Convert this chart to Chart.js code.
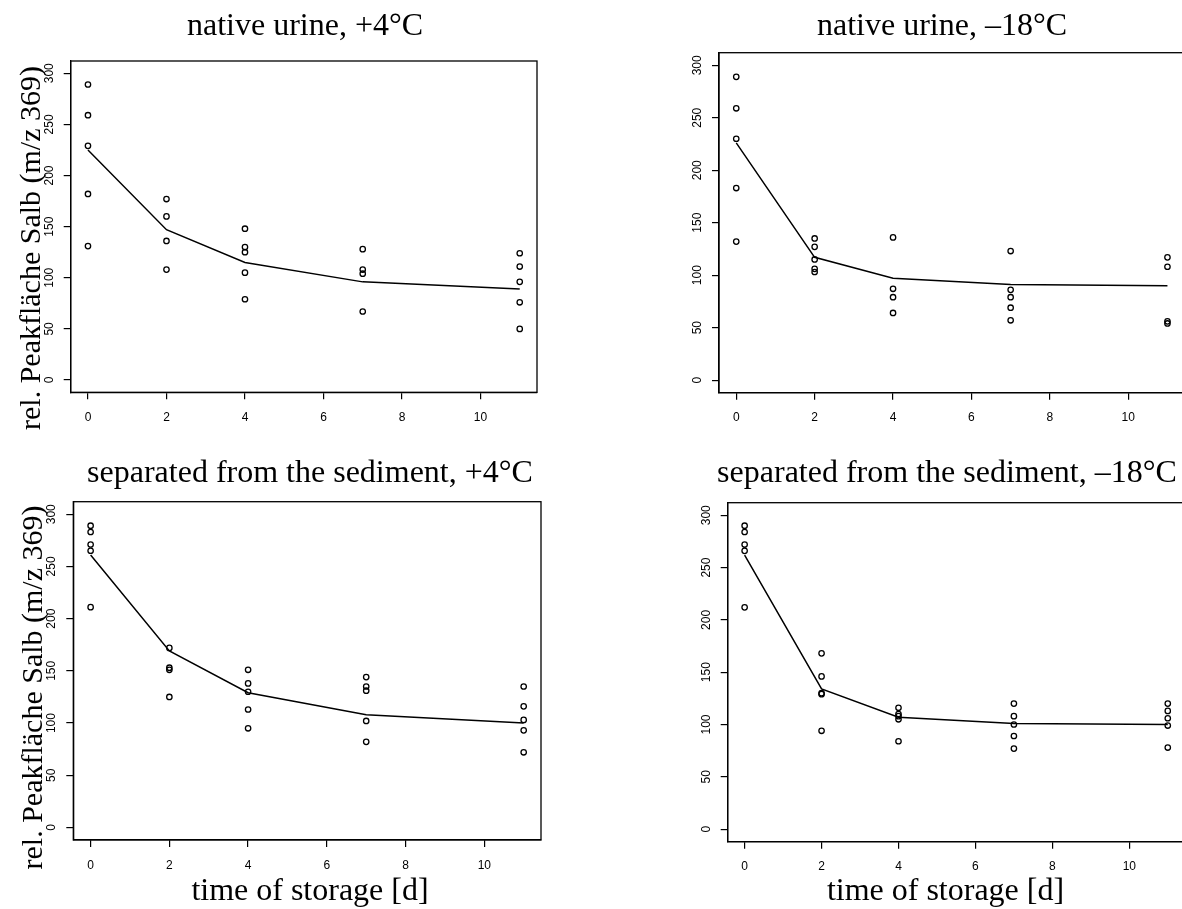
<!DOCTYPE html>
<html lang="en">
  <head>
    <meta charset="UTF-8" />
    <title>Salb peak area vs. time of storage</title>
    <script src="https://cdn.jsdelivr.net/npm/chart.js"></script>
    <style>
      body {
        margin: 0;
        background: #fff;
        overflow: hidden;
      }

      .page {
        position: relative;
        width: 1182px;
        height: 909px;
        overflow: hidden;
        background: #fff;
      }

      canvas {
        position: absolute;
      }
    </style>
  </head>
  <body>
    <div class="page">
      <canvas id="urine-plus4"></canvas>
      <canvas id="urine-minus18"></canvas>
      <canvas id="sep-plus4"></canvas>
      <canvas id="sep-minus18"></canvas>
    </div>

    <script>
      const days = [0, 2, 4, 7, 11];
      const xTicks = [0, 2, 4, 6, 8, 10];
      const yTicks = [0, 50, 100, 150, 200, 250, 300];

      // replicates per storage day
      const urinePlus4 = [
        [289, 259, 229, 182, 131],
        [177, 160, 136, 108],
        [148, 130, 125, 105, 79],
        [128, 108, 104, 67],
        [124, 111, 96, 76, 50],
      ];
      const urinePlus4Fit = [225, 147, 115, 96, 89];

      const urineMinus18 = [
        [289, 259, 230, 183, 132],
        [135, 127, 115, 106, 103],
        [136, 87, 79, 64],
        [123, 86, 79, 69, 57],
        [117, 108, 56, 54],
      ];
      const urineMinus18Fit = [226, 117, 97, 91, 90];

      const sepPlus4 = [
        [289, 283, 271, 265, 211],
        [172, 153, 151, 125],
        [151, 138, 130, 113, 95],
        [144, 135, 131, 102, 82],
        [135, 116, 103, 93, 72],
      ];
      const sepPlus4Fit = [261, 169, 129, 108, 100];

      const sepMinus18 = [
        [290, 284, 272, 266, 212],
        [168, 146, 130, 129, 94],
        [116, 110, 108, 105, 84],
        [120, 108, 100, 89, 77],
        [120, 113, 106, 99, 78],
      ];
      const sepMinus18Fit = [262, 134, 107, 101, 100];

      const yLabel = "rel. Peakfläche Salb (m/z 369)";
      const xLabel = "time of storage [d]";

      const serif = "'Liberation Serif', 'Times New Roman', serif";
      const sans = "'Liberation Sans', Arial, sans-serif";

      // page positions of each panel (canvas box, plot box, text anchors)
      const panels = [
        {
          id: "urine-plus4",
          title: "native urine, +4°C",
          values: urinePlus4,
          fit: urinePlus4Fit,
          left: 0, top: 0, width: 545, height: 433,
          padTop: 61, padRight: 8, yWidth: 70.7, xHeight: 40.7,
          titleAt: [305, 34.5],
          yLabelAt: [39.5, 248],
          xLabelAt: null,
        },
        {
          id: "urine-minus18",
          title: "native urine, –18°C",
          values: urineMinus18,
          fit: urineMinus18Fit,
          left: 680, top: 0, width: 510, height: 433,
          padTop: 52.7, padRight: 4, yWidth: 39, xHeight: 40.3,
          titleAt: [942, 34.5],
          yLabelAt: null,
          xLabelAt: null,
        },
        {
          id: "sep-plus4",
          title: "separated from the sediment, +4°C",
          values: sepPlus4,
          fit: sepPlus4Fit,
          left: 0, top: 440, width: 549, height: 469,
          padTop: 61.7, padRight: 8, yWidth: 73.3, xHeight: 69,
          titleAt: [310, 482],
          yLabelAt: [41.5, 687.5],
          xLabelAt: [310, 899.5],
        },
        {
          id: "sep-minus18",
          title: "separated from the sediment, –18°C",
          values: sepMinus18,
          fit: sepMinus18Fit,
          left: 680, top: 440, width: 510, height: 469,
          padTop: 62.7, padRight: 4, yWidth: 47.7, xHeight: 67.3,
          titleAt: [947, 482],
          yLabelAt: null,
          xLabelAt: [945.5, 899.5],
        },
      ];

      // R style box around the plot region
      const framePlugin = {
        id: "frame",
        afterDraw(chart) {
          const { ctx, chartArea: a } = chart;
          ctx.save();
          ctx.strokeStyle = "#000";
          ctx.lineWidth = 1.3;
          ctx.strokeRect(a.left, a.top, a.right - a.left, a.bottom - a.top);
          ctx.restore();
        },
      };

      // titles placed like R's title()/mtext(), not centred on the plot box
      const panelTextPlugin = {
        id: "panelText",
        afterDraw(chart, args, opts) {
          const { ctx } = chart;
          ctx.save();
          ctx.fillStyle = "#000";
          ctx.textAlign = "center";
          ctx.textBaseline = "alphabetic";
          opts.items.forEach((t) => {
            ctx.save();
            ctx.translate(t.x, t.y);
            if (t.vertical) ctx.rotate(-Math.PI / 2);
            ctx.font = t.font;
            ctx.fillText(t.text, 0, 0);
            ctx.restore();
          });
          ctx.restore();
        },
      };

      function toPoints(values) {
        return days.flatMap((d, i) => values[i].map((v) => ({ x: d, y: v })));
      }

      function drawPanel(p) {
        const canvas = document.getElementById(p.id);
        canvas.width = p.width;
        canvas.height = p.height;
        canvas.style.left = p.left + "px";
        canvas.style.top = p.top + "px";

        const items = [
          {
            text: p.title,
            x: p.titleAt[0] - p.left,
            y: p.titleAt[1] - p.top,
            font: "32px " + serif,
          },
        ];
        if (p.yLabelAt) {
          items.push({
            text: yLabel,
            x: p.yLabelAt[0] - p.left,
            y: p.yLabelAt[1] - p.top,
            font: "30px " + serif,
            vertical: true,
          });
        }
        if (p.xLabelAt) {
          items.push({
            text: xLabel,
            x: p.xLabelAt[0] - p.left,
            y: p.xLabelAt[1] - p.top,
            font: "32px " + serif,
          });
        }

        const axisGrid = {
          display: true,
          drawOnChartArea: false,
          drawTicks: true,
          tickLength: 7,
          color: "#000",
          lineWidth: 1.2,
        };
        const axisBorder = { display: true, color: "#000", width: 1.3 };

        new Chart(canvas, {
          type: "scatter",
          data: {
            datasets: [
              {
                label: "fit",
                data: days.map((d, i) => ({ x: d, y: p.fit[i] })),
                showLine: true,
                borderColor: "#000",
                borderWidth: 1.5,
                pointRadius: 0,
                tension: 0,
              },
              {
                label: "samples",
                data: toPoints(p.values),
                borderColor: "#000",
                backgroundColor: "rgba(0,0,0,0)",
                borderWidth: 1.3,
                pointRadius: 2.7,
              },
            ],
          },
          options: {
            responsive: false,
            animation: false,
            layout: {
              padding: { left: 0, right: p.padRight, top: p.padTop, bottom: 0 },
            },
            plugins: {
              legend: { display: false },
              tooltip: { enabled: false },
              title: { display: false },
              panelText: { items },
            },
            scales: {
              x: {
                type: "linear",
                min: -0.44,
                max: 11.44,
                grid: axisGrid,
                border: axisBorder,
                afterBuildTicks: (scale) => {
                  scale.ticks = xTicks.map((v) => ({ value: v }));
                },
                afterFit: (scale) => {
                  scale.height = p.xHeight;
                },
                ticks: {
                  color: "#000",
                  padding: 11,
                  autoSkip: false,
                  maxRotation: 0,
                  font: { family: sans, size: 12 },
                },
              },
              y: {
                type: "linear",
                min: -12,
                max: 312,
                grid: axisGrid,
                border: axisBorder,
                afterBuildTicks: (scale) => {
                  scale.ticks = yTicks.map((v) => ({ value: v }));
                },
                afterFit: (scale) => {
                  scale.width = p.yWidth;
                },
                ticks: {
                  color: "#000",
                  padding: 4.5,
                  autoSkip: false,
                  minRotation: 90,
                  maxRotation: 90,
                  crossAlign: "center",
                  font: { family: sans, size: 12 },
                },
              },
            },
          },
          plugins: [framePlugin, panelTextPlugin],
        });
      }

      panels.forEach(drawPanel);
    </script>
  </body>
</html>
